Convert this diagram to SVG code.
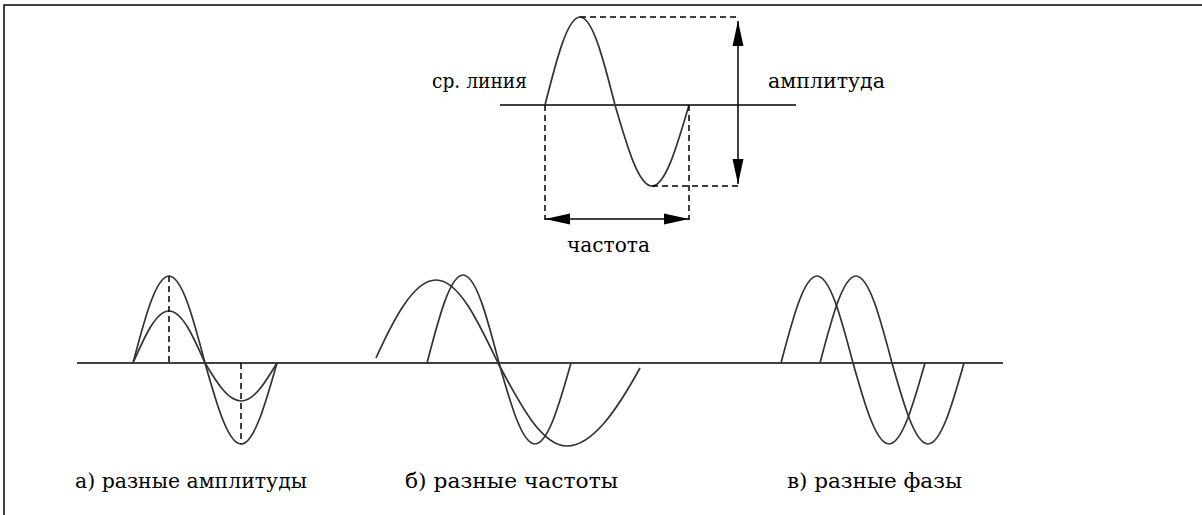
<svg xmlns="http://www.w3.org/2000/svg" width="1202" height="515" viewBox="0 0 1202 515">
<style>
.axis{stroke:#000;stroke-width:1.5;fill:none}
.wave{stroke:#333;stroke-width:1.7;fill:none}
.dash{stroke:#000;stroke-width:1.5;fill:none;stroke-dasharray:6,4}
.arrow{stroke:#000;stroke-width:1.5;fill:none;marker-start:url(#ah);marker-end:url(#ah)}
.lbl{font-family:'DejaVu Serif','Liberation Serif',serif;font-size:21px;fill:#000}
</style>
<defs>
<marker id="ah" markerUnits="userSpaceOnUse" markerWidth="26" markerHeight="12" refX="25" refY="6" orient="auto-start-reverse">
<path d="M0,0.5 L25,6 L0,11.5 Z" fill="#000"/>
</marker>
</defs>
<rect width="1202" height="515" fill="#fff"/>
<g id="frame">
<path class="axis" d="M4,515 V5 H1202"/>
</g>
<g id="top-chart">
<line class="axis" x1="500" y1="105" x2="796" y2="105"/>
<path class="wave" d="M545,105 C556.41,59.92 567.33,17 580,17 C592.67,17 603.59,59.92 615,105 C627.07,146.5 638.61,186 652,186 C665.39,186 676.93,146.5 689,105"/>
</g>
<g id="connectors">
<path class="dash" d="M580,17 H738"/>
<path class="dash" d="M652,186 H738"/>
<path class="dash" d="M545,105 V220"/>
<path class="dash" d="M689,105 V220"/>
<line class="arrow" x1="738" y1="21" x2="738" y2="184"/>
<line class="arrow" x1="545" y1="219" x2="689" y2="219"/>
</g>
<g id="label-midline"><text class="lbl" font-family="DejaVu Serif, serif" x="432" y="88" textLength="95" lengthAdjust="spacingAndGlyphs">ср. линия</text></g>
<g id="label-amplitude"><text class="lbl" font-family="DejaVu Serif, serif" x="768" y="88" textLength="117" lengthAdjust="spacingAndGlyphs">амплитуда</text></g>
<g id="label-frequency"><text class="lbl" font-family="DejaVu Serif, serif" x="567" y="252" textLength="83" lengthAdjust="spacingAndGlyphs">частота</text></g>
<g id="bottom-axis">
<line class="axis" x1="77" y1="363" x2="1003" y2="363"/>
</g>
<g id="panel-a">
<path class="wave" d="M133,363 C144.74,318.43 155.97,276 169,276 C182.03,276 193.26,318.43 205,363 C216.74,404.5 227.970,444 241,444 C254.03,444 265.26,404.5 277,363"/>
<path class="wave" d="M133,363 C144.74,336.36 155.97,311 169,311 C182.03,311 193.26,336.36 205,363 C216.74,382.47 227.97,401 241,401 C254.03,401 265.26,382.47 277,363"/>
<path class="dash" d="M169,276 V363"/>
<path class="dash" d="M241,363 V444"/>
<text class="lbl" font-family="DejaVu Serif, serif" x="75" y="488" textLength="232" lengthAdjust="spacingAndGlyphs">а) разные амплитуды</text>
</g>
<g id="panel-b">
<path class="wave" d="M376,358 C393,320.5 413.5,280 436,280 C458.44,280 477.78,320.48 498,363 C520.5,405.52 542.03,446 567,446 C593,446 618,408 640,368"/>
<path class="wave" d="M427,363 C438.74,317.92 449.97,275 463,275 C476.03,275 487.26,317.92 499,363 C510.74,404.5 521.97,444 535,444 C548.03,444 559.26,404.5 571,363"/>
<text class="lbl" font-family="DejaVu Serif, serif" x="405" y="488" textLength="213" lengthAdjust="spacingAndGlyphs">б) разные частоты</text>
</g>
<g id="panel-c">
<path class="wave" d="M781,363 C792.74,318.43 803.97,276 817,276 C830.03,276 841.26,318.43 853,363 C864.74,404.5 875.97,444 889,444 C902.03,444 913.26,404.5 925,363"/>
<path class="wave" d="M820,363 C831.74,318.43 842.97,276 856,276 C869.03,276 880.26,318.43 892,363 C903.74,404.5 914.97,444 928,444 C941.03,444 952.26,404.5 964,363"/>
<text class="lbl" font-family="DejaVu Serif, serif" x="787" y="488" textLength="175" lengthAdjust="spacingAndGlyphs">в) разные фазы</text>
</g>
</svg>
